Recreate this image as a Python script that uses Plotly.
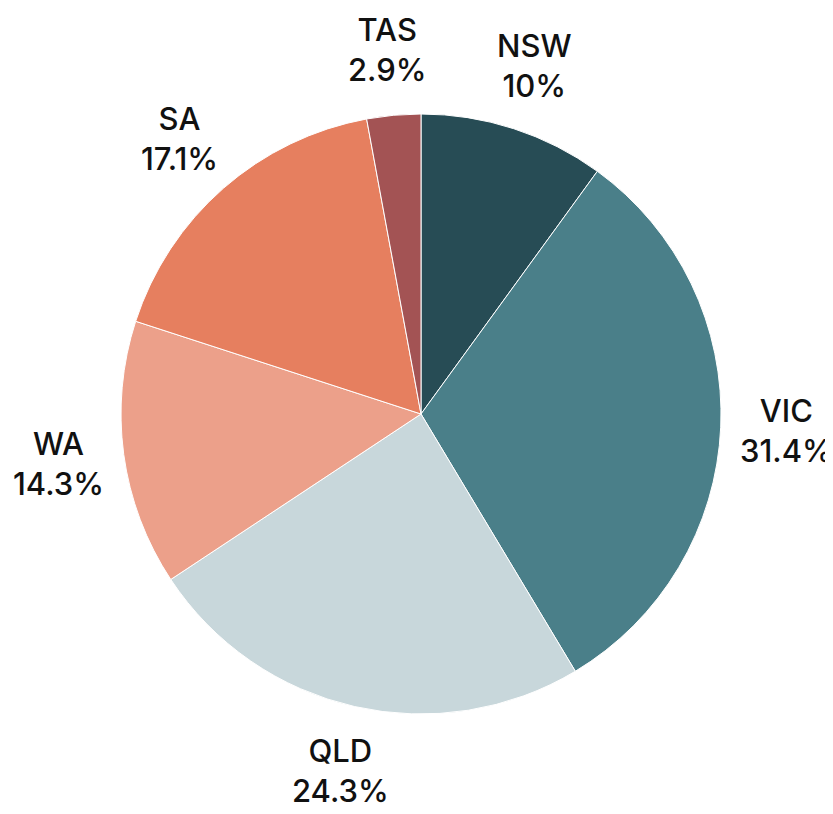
import math
import plotly.graph_objects as go

states = ["NSW", "VIC", "QLD", "WA", "SA", "TAS"]
shares = [10, 31.4, 24.3, 14.3, 17.1, 2.9]
colors = ["#274c55", "#4a7f89", "#c8d7db", "#eca08a", "#e67f5f", "#a35354"]

fig = go.Figure(go.Pie(
    labels=states,
    values=shares,
    sort=False,
    direction="clockwise",
    rotation=0,
    marker=dict(colors=colors, line=dict(color="white", width=1)),
    textinfo="none",
    showlegend=False,
    hoverinfo="label+percent",
))

# label placement: centred on each slice's mid-angle, just outside the pie
label_r = 0.61  # in paper units (pie radius = 0.5)
total = sum(shares)
cum = 0.0
annotations = []
for name, v in zip(states, shares):
    mid = (cum + v / 2) / total * 2 * math.pi
    cum += v
    annotations.append(dict(
        x=0.5 + label_r * math.sin(mid),
        y=0.5 + label_r * math.cos(mid),
        xref="paper", yref="paper",
        xanchor="center", yanchor="middle",
        text=f"{name}<br>{v:g}%",
        showarrow=False,
        font=dict(family="Inter, Lato, sans-serif", size=31, color="#111111", weight=500),
    ))

fig.update_layout(
    width=833, height=814,
    margin=dict(l=113, r=120, t=106, b=108),
    paper_bgcolor="white",
    plot_bgcolor="white",
    annotations=annotations,
)

fig.write_html("out.html")
